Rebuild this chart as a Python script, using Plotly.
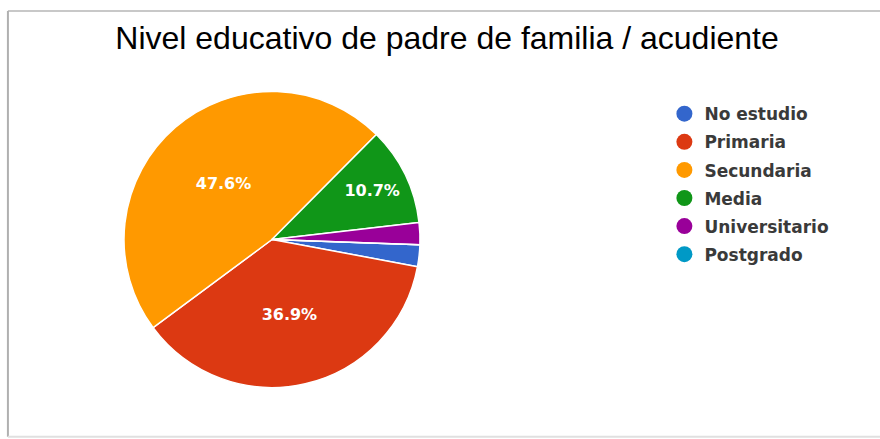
import plotly.graph_objects as go

categories = ["No estudio", "Primaria", "Secundaria", "Media", "Universitario", "Postgrado"]
counts = [2, 31, 40, 9, 2, 0]
slice_labels = ["", "36.9%", "47.6%", "10.7%", "", ""]
colors = ["#3366cc", "#dc3912", "#ff9900", "#109618", "#990099", "#0099c6"]
title_text = "Nivel educativo de padre de familia / acudiente"

fig = go.Figure()
fig.add_trace(go.Pie(
    labels=categories, values=counts, text=slice_labels,
    textinfo="text", textposition="inside", insidetextorientation="horizontal",
    sort=False, direction="clockwise", rotation=92,
    marker=dict(colors=colors, line=dict(color="white", width=1.5)),
    textfont=dict(family="DejaVu Sans", size=16, color="white", weight="bold"),
    domain=dict(x=[0.1409, 0.4773], y=[0.1173, 0.7916]),
    showlegend=False, hoverinfo="label+percent",
))
for name, col in zip(categories, colors):
    fig.add_trace(go.Scatter(
        x=[None], y=[None], mode="markers", name=name, legendgroup=name,
        marker=dict(symbol="circle", size=17, color=col),
        showlegend=True,
    ))

fig.update_layout(
    width=880, height=439,
    margin=dict(l=0, r=0, t=0, b=0),
    paper_bgcolor="white", plot_bgcolor="white",
    title=dict(text=title_text, x=0.508, xanchor="center", y=0.915, yanchor="middle",
               font=dict(family="Liberation Sans, Arial", size=32, color="black")),
    xaxis=dict(visible=False), yaxis=dict(visible=False),
    legend=dict(x=0.755, y=0.781, xanchor="left", yanchor="top",
                font=dict(family="DejaVu Sans", size=17, color="#3a3a3a", weight="bold"),
                itemwidth=30, tracegroupgap=3, bgcolor="rgba(0,0,0,0)"),
    shapes=[
        dict(type="line", xref="paper", yref="paper", x0=0.009, x1=1.0, y0=0.975, y1=0.975,
             line=dict(color="#c8c8c8", width=2)),
        dict(type="line", xref="paper", yref="paper", x0=0.009, x1=0.009, y0=0.005, y1=0.975,
             line=dict(color="#b0b0b0", width=2)),
        dict(type="line", xref="paper", yref="paper", x0=0.009, x1=1.0, y0=0.005, y1=0.005,
             line=dict(color="#e0e0e0", width=2)),
    ],
)
fig.write_html("out.html", config={"displayModeBar": False})

with open("out.html", "r", encoding="utf-8") as f:
    html = f.read()
html = html.replace("<body>", '<body style="margin:0;padding:0;overflow:hidden">', 1)
with open("out.html", "w", encoding="utf-8") as f:
    f.write(html)
